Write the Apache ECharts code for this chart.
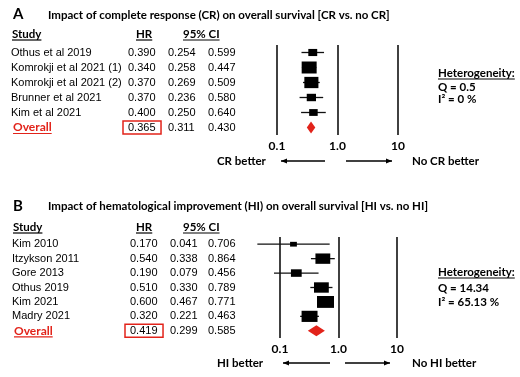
<!DOCTYPE html>
<html><head><meta charset="utf-8">
<script src="https://cdn.jsdelivr.net/npm/echarts@6/dist/echarts.min.js"></script>
<style>html,body{margin:0;padding:0;background:#fff}#c{width:520px;height:377px}</style>
</head><body><div id="c"></div>
<script>
// ---------- data ----------
const studiesA = ['Othus et al 2019','Komrokji et al 2021 (1)','Komrokji et al 2021 (2)','Brunner et al 2021','Kim et al 2021','Overall'];
const hrA   = [0.390,0.340,0.370,0.370,0.400,0.365];
const lowA  = [0.254,0.258,0.269,0.236,0.250,0.311];
const highA = [0.599,0.447,0.509,0.580,0.640,0.430];
const weightA = [12,34,30,13,11];           // relative study weights
const studiesB = ['Kim 2010','Itzykson 2011','Gore 2013','Othus 2019','Kim 2021','Madry 2021','Overall'];
const hrB   = [0.170,0.540,0.190,0.510,0.600,0.320,0.419];
const lowB  = [0.041,0.338,0.079,0.330,0.467,0.221,0.299];
const highB = [0.706,0.864,0.456,0.789,0.771,0.463,0.585];
const weightB = [4,19,10,19,25,22];
const tickLabels = ['0.1','1.0','10'];
const headers = ['Study','HR','95% CI'];
const titleA = 'Impact of complete response (CR) on overall survival [CR vs. no CR]';
const titleB = 'Impact of hematological improvement (HI) on overall survival [HI vs. no HI]';
const hetA = ['Heterogeneity:','Q = 0.5','I\u00B2 = 0 %'];
const hetB = ['Heterogeneity:','Q = 14.34','I\u00B2 = 65.13 %'];
const sideA = ['CR better','No CR better'];
const sideB = ['HI better','No HI better'];

// ---------- style / layout ----------
const RED = '#e2231a';
const INK = '#000';
const BOLD = '"Lato", "Open Sans", sans-serif';
const TAB = '"Liberation Sans", Arial, sans-serif';
const tabFont = '11px ' + TAB;
const hdrFont = 'bold 11.5px ' + BOLD;

const panels = [
  {studies: studiesA, hr: hrA, low: lowA, high: highA, w: weightA,
   fLeft: 277, fWidth: 121, top: 45, height: 90, boxScale: 2.57, aspect: 0.8, diaH: 12,
   nameX: 11, cols: [128, 168, 208], hdrY: 34, label: 'A', labelY: 14, title: titleA, titleY: 15,
   het: hetA, hetY: [73, 87.5, 99], side: sideA, sideY: 161, arrows: [281, 325, 346, 392]},
  {studies: studiesB, hr: hrB, low: lowB, high: highB, w: weightB,
   fLeft: 280, fWidth: 117, top: 237, height: 101, boxScale: 3.4, aspect: 0.7, diaH: 11,
   nameX: 12, cols: [130, 170, 208], hdrY: 227, label: 'B', labelY: 206, title: titleB, titleY: 206.5,
   het: hetB, hetY: [272, 288, 302], side: sideB, sideY: 363, arrows: [283, 330, 345, 390]}
];

const mctx = document.createElement('canvas').getContext('2d');
function tw(text, font){ mctx.font = font; return mctx.measureText(text).width; }

const grid = [], xAxis = [], yAxis = [], series = [], graphic = [];

function txt(x, y, text, font, fill, align){
  graphic.push({type:'text', x: x, y: y, silent:true,
    style:{text: text, font: font, fill: fill || INK, textAlign: align || 'left', textVerticalAlign:'middle'}});
}
function uline(x, y, text, font, color){
  const w = tw(text, font);
  graphic.push({type:'line', silent:true, shape:{x1:x, y1:y, x2:x + w, y2:y},
    style:{stroke: color || INK, lineWidth: 1.2}});
}
function arrow(x1, x2, y, headAt){
  graphic.push({type:'line', silent:true, shape:{x1:x1, y1:y, x2:x2, y2:y}, style:{stroke:INK, lineWidth:1.3}});
  const hx = headAt, d = headAt === x1 ? 6 : -6;
  graphic.push({type:'polygon', silent:true, shape:{points:[[hx, y],[hx + d, y - 2.6],[hx + d, y + 2.6]]}, style:{fill:INK}});
}

panels.forEach((p, k) => {
  const n = p.studies.length;
  const gF = grid.length;
  grid.push({left: p.fLeft, width: p.fWidth, top: p.top, height: p.height});
  grid.push({left: 0, width: 520, top: p.top, height: p.height});
  // forest axes
  xAxis.push({type:'log', logBase:10, min:0.1, max:10, gridIndex: gF,
    axisLine:{show:false}, axisTick:{show:false},
    splitLine:{show:true, showMinLine:true, showMaxLine:true, lineStyle:{color:'#111', width:1.6}},
    axisLabel:{show:true, margin:5, fontFamily: BOLD, fontWeight:'bold', fontSize:12, color:INK,
      formatter: v => tickLabels[Math.round(Math.log10(v)) + 1]}});
  yAxis.push({type:'value', min:-0.5, max:n - 0.5, inverse:true, gridIndex: gF, show:false});
  // table axes (pixel-aligned)
  xAxis.push({type:'value', min:0, max:520, gridIndex: gF + 1, show:false});
  yAxis.push({type:'value', min:-0.5, max:n - 0.5, inverse:true, gridIndex: gF + 1, show:false});

  const data = p.studies.map((s, i) => [p.hr[i], p.low[i], p.high[i], i]);
  series.push({type:'custom', xAxisIndex: gF, yAxisIndex: gF, data: data, silent:true,
    encode:{x:[0,1,2], y:3},
    renderItem: (params, api) => {
      const i = api.value(3);
      const c = api.coord([api.value(0), i]);
      const xl = api.coord([api.value(1), i])[0];
      const xh = api.coord([api.value(2), i])[0];
      const y = c[1];
      if (i === n - 1) {
        const h = p.diaH / 2;
        return {type:'polygon', shape:{points:[[xl, y],[c[0], y - h],[xh, y],[c[0], y + h]]}, style:{fill: RED}};
      }
      const w = p.boxScale * Math.sqrt(p.w[i]);
      const h = w * p.aspect;
      return {type:'group', children:[
        {type:'line', shape:{x1:xl, y1:y, x2:xh, y2:y}, style:{stroke:'#111', lineWidth:1.3}},
        {type:'rect', shape:{x:c[0] - w/2, y:y - h/2, width:w, height:h}, style:{fill:'#000'}}
      ]};
    }});

  series.push({type:'custom', xAxisIndex: gF + 1, yAxisIndex: gF + 1, data: data, silent:true,
    encode:{y:3},
    renderItem: (params, api) => {
      const i = api.value(3);
      const y = api.coord([0, i])[1];
      const last = i === n - 1;
      const ch = [];
      const nameFont = last ? 'bold 12px ' + BOLD : tabFont;
      ch.push({type:'text', style:{text: p.studies[i], x: p.nameX + (last ? 2 : 0), y: y, font: nameFont, fill: last ? RED : INK, textAlign:'left', textVerticalAlign:'middle'}});
      if (last) {
        const w = tw(p.studies[i], nameFont);
        ch.push({type:'line', shape:{x1:p.nameX + 2, y1:y + 6, x2:p.nameX + 2 + w, y2:y + 6}, style:{stroke:RED, lineWidth:1.2}});
      }
      [api.value(0), api.value(1), api.value(2)].forEach((v, j) => {
        ch.push({type:'text', style:{text: v.toFixed(3), x: p.cols[j], y: y, font: tabFont, fill:INK, textAlign:'left', textVerticalAlign:'middle'}});
      });
      if (last) {
        const w = tw(api.value(0).toFixed(3), tabFont);
        ch.push({type:'rect', shape:{x:p.cols[0] - 5, y:y - 6.5, width:w + 10.5, height:13}, style:{fill:'none', stroke:RED, lineWidth:1.5}});
      }
      return {type:'group', children: ch};
    }});

  // headers, titles, annotations
  txt(13, p.labelY, p.label, 'bold 15px ' + BOLD);
  txt(48, p.titleY, p.title, 'bold 11.5px ' + BOLD);
  const hx = [p.nameX + 1, 136, 183];
  headers.forEach((h, j) => { txt(hx[j], p.hdrY, h, hdrFont); uline(hx[j], p.hdrY + 6, h, hdrFont); });
  txt(438, p.hetY[0], p.het[0], hdrFont); uline(438, p.hetY[0] + 6, p.het[0], hdrFont);
  txt(438, p.hetY[1], p.het[1], hdrFont);
  txt(438, p.hetY[2], p.het[2], hdrFont);
  txt(217, p.sideY, p.side[0], hdrFont);
  txt(412, p.sideY, p.side[1], hdrFont);
  arrow(p.arrows[0], p.arrows[1], p.sideY, p.arrows[0]);
  arrow(p.arrows[2], p.arrows[3], p.sideY, p.arrows[3]);
});

const chart = echarts.init(document.getElementById('c'), null, {renderer:'canvas'});
chart.setOption({animation:false, backgroundColor:'#fff', grid, xAxis, yAxis, series, graphic});
</script></body></html>
